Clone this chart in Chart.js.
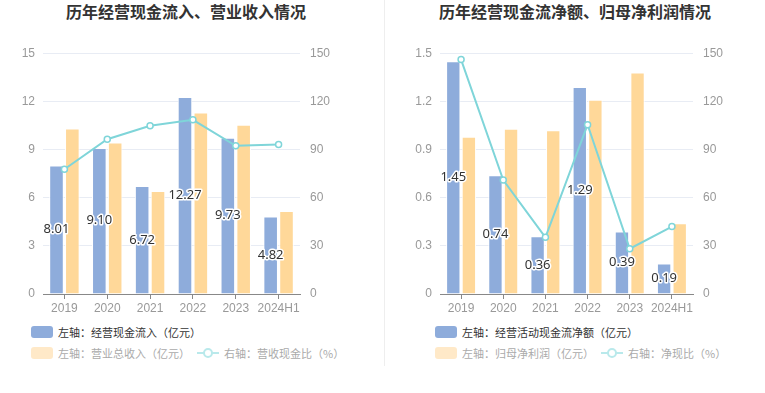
<!DOCTYPE html>
<html>
<head>
<meta charset="utf-8">
<script src="https://cdn.jsdelivr.net/npm/chart.js@4.4.0/dist/chart.umd.min.js"></script>
<style>
    body { margin: 0; background: #fff; font-family: "Noto Sans CJK SC", "Noto Sans", sans-serif; }
    #page { position: relative; width: 765px; height: 393px; overflow: hidden; }
    .title { position: absolute; top: -1px; font-size: 16px; font-weight: bold; color: #333; text-align: center; }
    .box { position: absolute; top: 36px; height: 284px; }
    .divider { position: absolute; left: 384px; top: 0; width: 1px; height: 366px; background: #eeeeee; }
    .legend { position: absolute; font-size: 11px; color: #333; white-space: nowrap; }
    .legend .item { position: absolute; display: flex; align-items: center; }
    .sw { display: inline-block; width: 22px; height: 12px; border-radius: 3px; margin-right: 5px; }
    .ln { display: inline-block; position: relative; width: 22px; height: 12px; margin-right: 5px; }
    .ln:before { content: ""; position: absolute; left: 0; right: 0; top: 5px; height: 2px; background: #b9e9eb; }
    .ln:after { content: ""; position: absolute; left: 6px; top: 1px; width: 6px; height: 6px; border: 2px solid #b9e9eb; border-radius: 50%; background: #fff; }
</style>
</head>
<body>
<div id="page">
    <div class="title" style="left:0; width:372px;">历年经营现金流入、营业收入情况</div>
    <div class="title" style="left:385px; width:380px;">历年经营现金流净额、归母净利润情况</div>
    <div class="box" style="left:0; width:382px;"><canvas id="c1"></canvas></div>
    <div class="box" style="left:385px; width:380px;"><canvas id="c2"></canvas></div>
    <div class="divider"></div>

    <div class="legend" style="left:31px; top:324px;">
        <div class="item" style="left:0; top:0;"><span class="sw" style="background:#8eacdb;"></span>左轴：经营现金流入（亿元）</div>
        <div class="item" style="left:0; top:21px; color:#aaa;"><span class="sw" style="background:#ffe9c8;"></span>左轴：营业总收入（亿元）</div>
        <div class="item" style="left:166px; top:21px; color:#aaa;"><span class="ln"></span>右轴：营收现金比（%）</div>
    </div>
    <div class="legend" style="left:435px; top:324px;">
        <div class="item" style="left:0; top:0;"><span class="sw" style="background:#8eacdb;"></span>左轴：经营活动现金流净额（亿元）</div>
        <div class="item" style="left:0; top:21px; color:#aaa;"><span class="sw" style="background:#ffe9c8;"></span>左轴：归母净利润（亿元）</div>
        <div class="item" style="left:166px; top:21px; color:#aaa;"><span class="ln"></span>右轴：净现比（%）</div>
    </div>
</div>

<script>
// data
const years = ['2019', '2020', '2021', '2022', '2023', '2024H1'];

const cashIn = [8.01, 9.10, 6.72, 12.27, 9.73, 4.82];
const revenue = [10.31, 9.44, 6.41, 11.31, 10.54, 5.17];
const cashRevRatio = [77.7, 96.4, 104.8, 108.5, 92.3, 93.2];

const netCash = [1.45, 0.74, 0.36, 1.29, 0.39, 0.19];
const netProfit = [0.98, 1.03, 1.02, 1.21, 1.38, 0.44];
const netCashRatio = [146, 71, 35.3, 105.5, 28.2, 42];

const blue = '#8eacdb';
const orange = '#ffd899';
const teal = '#7fd5d9';

// value labels in the middle of the blue bars
const midLabels = {
    id: 'midLabels',
    afterDatasetsDraw: (chart) => {
        const ctx = chart.ctx;
        const meta = chart.getDatasetMeta(1);
        ctx.save();
        ctx.font = '13px "Noto Sans", "DejaVu Sans", sans-serif';
        ctx.textAlign = 'center';
        ctx.textBaseline = 'middle';
        ctx.lineJoin = 'round';
        meta.data.forEach((bar, i) => {
            const txt = chart.data.datasets[1].data[i].toFixed(2);
            const y = (bar.y + bar.base) / 2;
            ctx.lineWidth = 3;
            ctx.strokeStyle = '#fff';
            ctx.strokeText(txt, bar.x, y);
            ctx.fillStyle = '#333';
            ctx.fillText(txt, bar.x, y);
        });
        ctx.restore();
    }
};

function makeChart(id, barA, barB, line, leftMax, leftStep, leftW, rightW) {
    new Chart(document.getElementById(id), {
        type: 'bar',
        plugins: [midLabels],
        data: {
            labels: years,
            datasets: [{
                type: 'line',
                data: line,
                yAxisID: 'y1',
                borderColor: teal,
                borderWidth: 2,
                pointRadius: 3,
                pointBorderWidth: 1.5,
                pointBackgroundColor: '#fff',
                pointBorderColor: teal,
                tension: 0,
                order: 0
            }, {
                data: barA,
                yAxisID: 'y',
                backgroundColor: blue,
                borderColor: '#fff',
                borderWidth: 1,
                categoryPercentage: 0.74,
                barPercentage: 0.92,
                order: 1
            }, {
                data: barB,
                yAxisID: 'y',
                backgroundColor: orange,
                borderColor: '#fff',
                borderWidth: 1,
                categoryPercentage: 0.74,
                barPercentage: 0.92,
                order: 1
            }]
        },
        options: {
            responsive: true,
            maintainAspectRatio: false,
            animation: false,
            layout: { padding: { top: 5, left: 0, right: 0, bottom: 0 } },
            scales: {
                x: {
                    grid: {
                        display: true,
                        drawOnChartArea: false,
                        drawTicks: true,
                        tickLength: 5,
                        color: '#888',
                        offset: false
                    },
                    border: { display: true, color: '#888' },
                    ticks: { color: '#999', font: { size: 12 }, padding: 2, maxRotation: 0, autoSkip: false },
                    afterFit: (s) => { s.height = 26; }
                },
                y: {
                    position: 'left',
                    min: 0,
                    max: leftMax,
                    ticks: {
                        stepSize: leftStep,
                        color: '#999',
                        font: { size: 12 },
                        padding: 8
                    },
                    grid: { color: '#e8ecf4', drawTicks: false },
                    border: { display: false },
                    afterFit: (s) => { s.width = leftW; }
                },
                y1: {
                    position: 'right',
                    min: 0,
                    max: 150,
                    ticks: { stepSize: 30, color: '#999', font: { size: 12 }, padding: 10 },
                    grid: { display: false, drawTicks: false },
                    border: { display: false },
                    afterFit: (s) => { s.width = rightW; }
                }
            },
            plugins: {
                legend: { display: false },
                tooltip: { enabled: false }
            }
        }
    });
}

makeChart('c1', cashIn, revenue, cashRevRatio, 15, 3, 43, 82);
makeChart('c2', netCash, netProfit, netCashRatio, 1.5, 0.3, 55, 72);
</script>
</body>
</html>
